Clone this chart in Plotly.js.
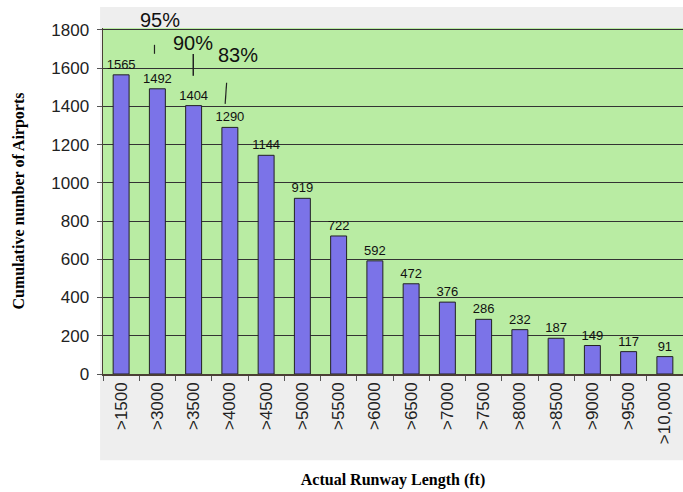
<!DOCTYPE html>
<html>
<head>
<meta charset="utf-8">
<script src="https://cdn.plot.ly/plotly-3.0.1.min.js"></script>
<style>html,body{margin:0;padding:0;background:#fff;}#chart{width:683px;height:492px;}</style>
</head>
<body>
<div id="chart"></div>
<script>
const categories = ['>1500','>3000','>3500','>4000','>4500','>5000','>5500','>6000','>6500','>7000','>7500','>8000','>8500','>9000','>9500','>10,000'];
const airports = [1565,1492,1404,1290,1144,919,722,592,472,376,286,232,187,149,117,91];
const percentLabels = ['95%','90%','83%'];

const Y_MAX = 1810;

const trace = {
  type: 'bar',
  x: categories,
  y: airports,
  text: airports.map(String),
  textposition: 'outside',
  constraintext: 'none',
  cliponaxis: false,
  textfont: {family: 'Liberation Sans, Arial, sans-serif', size: 13, color: '#111'},
  marker: {color: '#7B73E8', line: {color: '#222', width: 1}},
  hoverinfo: 'none'
};

const annFont = {family: 'Liberation Sans, Arial, sans-serif', size: 20, color: '#111'};
const layout = {
  width: 683, height: 492,
  margin: {l: 103, r: 0, t: 28, b: 118},
  paper_bgcolor: '#ffffff',
  plot_bgcolor: 'rgba(0,0,0,0)',
  bargap: 0.56,
  showlegend: false,
  xaxis: {
    type: 'category',
    tickson: 'boundaries',
    ticks: 'outside', ticklen: 5, tickcolor: '#555',
    tickangle: -90,
    tickfont: {family: 'Liberation Sans, Arial, sans-serif', size: 17, color: '#222'},
    showline: true, linecolor: '#4a3f35', linewidth: 1.5,
    showgrid: false,
    automargin: false,
    title: {text: '<b>Actual Runway Length (ft)</b>', font: {family: 'Liberation Serif, Times New Roman, serif', size: 16, color: '#000'}, standoff: 30}
  },
  yaxis: {
    range: [0, Y_MAX],
    dtick: 200,
    ticks: 'outside', ticklen: 5, tickcolor: '#555',
    ticklabelstandoff: 4,
    tickfont: {family: 'Liberation Sans, Arial, sans-serif', size: 17, color: '#222'},
    showline: true, linecolor: '#4a3f35', linewidth: 1.5,
    showgrid: true, gridcolor: '#333333', gridwidth: 1,
    zeroline: false,
    automargin: false,
    title: {text: '<b>Cumulative number of Airports</b>', font: {family: 'Liberation Serif, Times New Roman, serif', size: 16, color: '#000'}, standoff: 22}
  },
  shapes: [
    {type: 'rect', xref: 'paper', yref: 'paper', x0: -0.005, x1: 1.01, y0: -0.249, y1: 1.061, fillcolor: '#EEEEEE', line: {width: 0}, layer: 'below'},
    {type: 'rect', xref: 'paper', yref: 'paper', x0: 0, x1: 1, y0: 0, y1: 1, fillcolor: '#B9ECA3', line: {width: 0}, layer: 'below'},
    {type: 'line', xref: 'x', yref: 'y', x0: 0.92, x1: 0.92, y0: 1675, y1: 1722, line: {color: '#222', width: 1.2}},
    {type: 'line', xref: 'x', yref: 'y', x0: 1.99, x1: 1.99, y0: 1560, y1: 1674, line: {color: '#222', width: 1.5}},
    {type: 'line', xref: 'x', yref: 'y', x0: 2.87, x1: 2.91, y0: 1413, y1: 1524, line: {color: '#222', width: 1.2}}
  ],
  annotations: [
    {xref: 'x', yref: 'paper', x: 1.06, y: 1852 / Y_MAX, yanchor: 'middle', xanchor: 'center', text: percentLabels[0], showarrow: false, font: annFont},
    {xref: 'x', yref: 'y', x: 1.97, y: 1732, yanchor: 'middle', xanchor: 'center', text: percentLabels[1], showarrow: false, font: annFont},
    {xref: 'x', yref: 'y', x: 3.22, y: 1669, yanchor: 'middle', xanchor: 'center', text: percentLabels[2], showarrow: false, font: annFont}
  ]
};

Plotly.newPlot('chart', [trace], layout, {displayModeBar: false, staticPlot: true});
</script>
</body>
</html>
